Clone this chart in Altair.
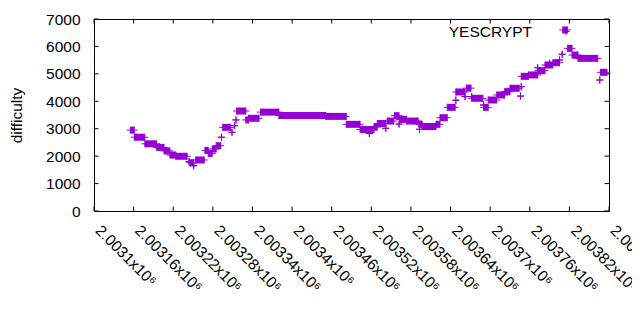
import altair as alt
import pandas as pd

PURPLE = "#9400D3"
PLUS = "M-1,0L1,0M0,-1L0,1"

# runs of consecutive blocks sharing one difficulty (start == end: a single block)
run_start = [2003155, 2003161, 2003177, 2003195, 2003206, 2003215, 2003224, 2003244,
             2003245, 2003251, 2003254, 2003268, 2003273, 2003279, 2003285, 2003293,
             2003295, 2003309, 2003313, 2003315, 2003316, 2003330, 2003334, 2003352,
             2003380, 2003451, 2003482, 2003503, 2003517, 2003524, 2003529, 2003542,
             2003544, 2003555, 2003562, 2003563, 2003573, 2003592, 2003593, 2003597,
             2003618, 2003624, 2003635, 2003648, 2003648, 2003662, 2003664, 2003672,
             2003672, 2003690, 2003690, 2003697, 2003710, 2003722, 2003730, 2003746,
             2003747, 2003747, 2003758, 2003772, 2003772, 2003783, 2003790, 2003795,
             2003805, 2003809, 2003810, 2003817, 2003824, 2003833, 2003866, 2003867]
run_end = [2003161, 2003177, 2003195, 2003206, 2003215, 2003224, 2003241, 2003244,
           2003251, 2003251, 2003267, 2003273, 2003279, 2003285, 2003292, 2003293,
           2003307, 2003309, 2003313, 2003315, 2003330, 2003334, 2003350, 2003380,
           2003451, 2003482, 2003503, 2003524, 2003517, 2003529, 2003542, 2003542,
           2003554, 2003562, 2003562, 2003573, 2003591, 2003597, 2003593, 2003618,
           2003624, 2003635, 2003647, 2003648, 2003662, 2003662, 2003671, 2003672,
           2003689, 2003690, 2003697, 2003710, 2003722, 2003730, 2003744, 2003746,
           2003747, 2003758, 2003772, 2003772, 2003783, 2003795, 2003790, 2003805,
           2003805, 2003809, 2003817, 2003824, 2003833, 2003863, 2003866, 2003877]
run_diff = [2950, 2690, 2450, 2320, 2190, 2040, 1995, 1800,
            1760, 1650, 1860, 2210, 2100, 2260, 2380, 2690,
            3050, 2870, 3110, 3320, 3645, 3320, 3380, 3605,
            3480, 3450, 3160, 2970, 2830, 3060, 3190, 3015,
            3280, 3475, 3170, 3340, 3280, 3160, 2980, 3080,
            3160, 3400, 3780, 4040, 4340, 4170, 4480, 4170,
            4110, 3865, 3780, 4047, 4230, 4350, 4475, 4190,
            4530, 4910, 4960, 5224, 5115, 5323, 5385, 5406,
            5506, 5715, 6600, 5930, 5687, 5566, 4776, 5056]

x_ticks = [2003100, 2003160, 2003220, 2003280, 2003340, 2003400, 2003460,
           2003520, 2003580, 2003640, 2003700, 2003760, 2003820, 2003880]
y_ticks = [0, 1000, 2000, 3000, 4000, 5000, 6000, 7000]
legend_label = ["YESCRYPT"]

W, H = 515, 192
TL = 4.5
FS = 15.5
FONT = "Liberation Sans, Arial, DejaVu Sans"

runs = pd.DataFrame({"start": run_start, "end": run_end, "difficulty": run_diff})
bars = runs[runs["end"] > runs["start"]]
ends = pd.concat([
    runs[["start", "difficulty"]].rename(columns={"start": "block"}),
    runs[["end", "difficulty"]].rename(columns={"end": "block"}),
])

xscale = alt.Scale(domain=[x_ticks[0], x_ticks[-1]], nice=False, zero=False)
yscale = alt.Scale(domain=[y_ticks[0], y_ticks[-1]], nice=False)

xaxis = alt.Axis(values=x_ticks, labelExpr="datum.value / 1000000 + 'x10⁶'",
                 labelAngle=45, labelAlign="left", labelBaseline="alphabetic",
                 labelPadding=20, ticks=False, domain=False, grid=False,
                 labelFlush=False, labelOverlap=False, labelBound=False,
                 title="block number", titleX=255, titleY=302,
                 titleBaseline="alphabetic", titleAlign="center")
yaxis = alt.Axis(values=y_ticks, format="d", ticks=False, domain=False, grid=False,
                 labelPadding=14, labelBaseline="middle",
                 title="difficulty", titleX=-72.5, titleY=H / 2, titleAngle=270,
                 titleBaseline="alphabetic", titleAlign="center")

bar_layer = alt.Chart(bars).mark_rule(strokeWidth=7, color=PURPLE, strokeCap="butt").encode(
    x=alt.X("start:Q", scale=xscale, axis=xaxis),
    x2="end:Q",
    y=alt.Y("difficulty:Q", scale=yscale, axis=yaxis),
)
pts_layer = alt.Chart(ends).mark_point(shape=PLUS, size=49, filled=False, strokeWidth=1,
                                       color=PURPLE, opacity=1).encode(
    x=alt.X("block:Q", scale=xscale, axis=xaxis),
    y=alt.Y("difficulty:Q", scale=yscale, axis=yaxis),
)

xt = pd.DataFrame({"v": x_ticks})
yt = pd.DataFrame({"v": y_ticks})
tick_bottom = alt.Chart(xt).mark_rule(color="black", strokeWidth=1).encode(
    x=alt.X("v:Q", scale=xscale, axis=xaxis), y=alt.value(H - TL), y2=alt.value(H))
tick_top = alt.Chart(xt).mark_rule(color="black", strokeWidth=1).encode(
    x=alt.X("v:Q", scale=xscale, axis=xaxis), y=alt.value(0), y2=alt.value(TL))
tick_left = alt.Chart(yt).mark_rule(color="black", strokeWidth=1).encode(
    y=alt.Y("v:Q", scale=yscale, axis=yaxis), x=alt.value(0), x2=alt.value(TL))
tick_right = alt.Chart(yt).mark_rule(color="black", strokeWidth=1).encode(
    y=alt.Y("v:Q", scale=yscale, axis=yaxis), x=alt.value(W - TL), x2=alt.value(W))

key_text = alt.Chart(pd.DataFrame({"t": legend_label})).mark_text(
    align="right", baseline="alphabetic", font=FONT, fontSize=FS, color="black"
).encode(x=alt.value(438), y=alt.value(18), text="t:N")
key_sample = alt.Chart(pd.DataFrame({"t": legend_label})).mark_point(
    shape=PLUS, size=49, filled=False, strokeWidth=1, color=PURPLE, opacity=1
).encode(x=alt.value(472), y=alt.value(12.5))

chart = alt.layer(
    tick_bottom, tick_top, tick_left, tick_right, bar_layer, pts_layer, key_text, key_sample
).properties(
    width=W, height=H,
    padding={"left": 86, "top": 11, "right": 23, "bottom": 112},
    autosize=alt.AutoSizeParams(type="none"),
    background="white",
).configure_view(
    stroke="black", strokeWidth=1
).configure_axis(
    labelFont=FONT, labelFontSize=FS, labelColor="black",
    titleFont=FONT, titleFontSize=FS, titleFontWeight="normal", titleColor="black",
)

chart.save("out.html", embed_options={"renderer": "svg", "actions": False})
